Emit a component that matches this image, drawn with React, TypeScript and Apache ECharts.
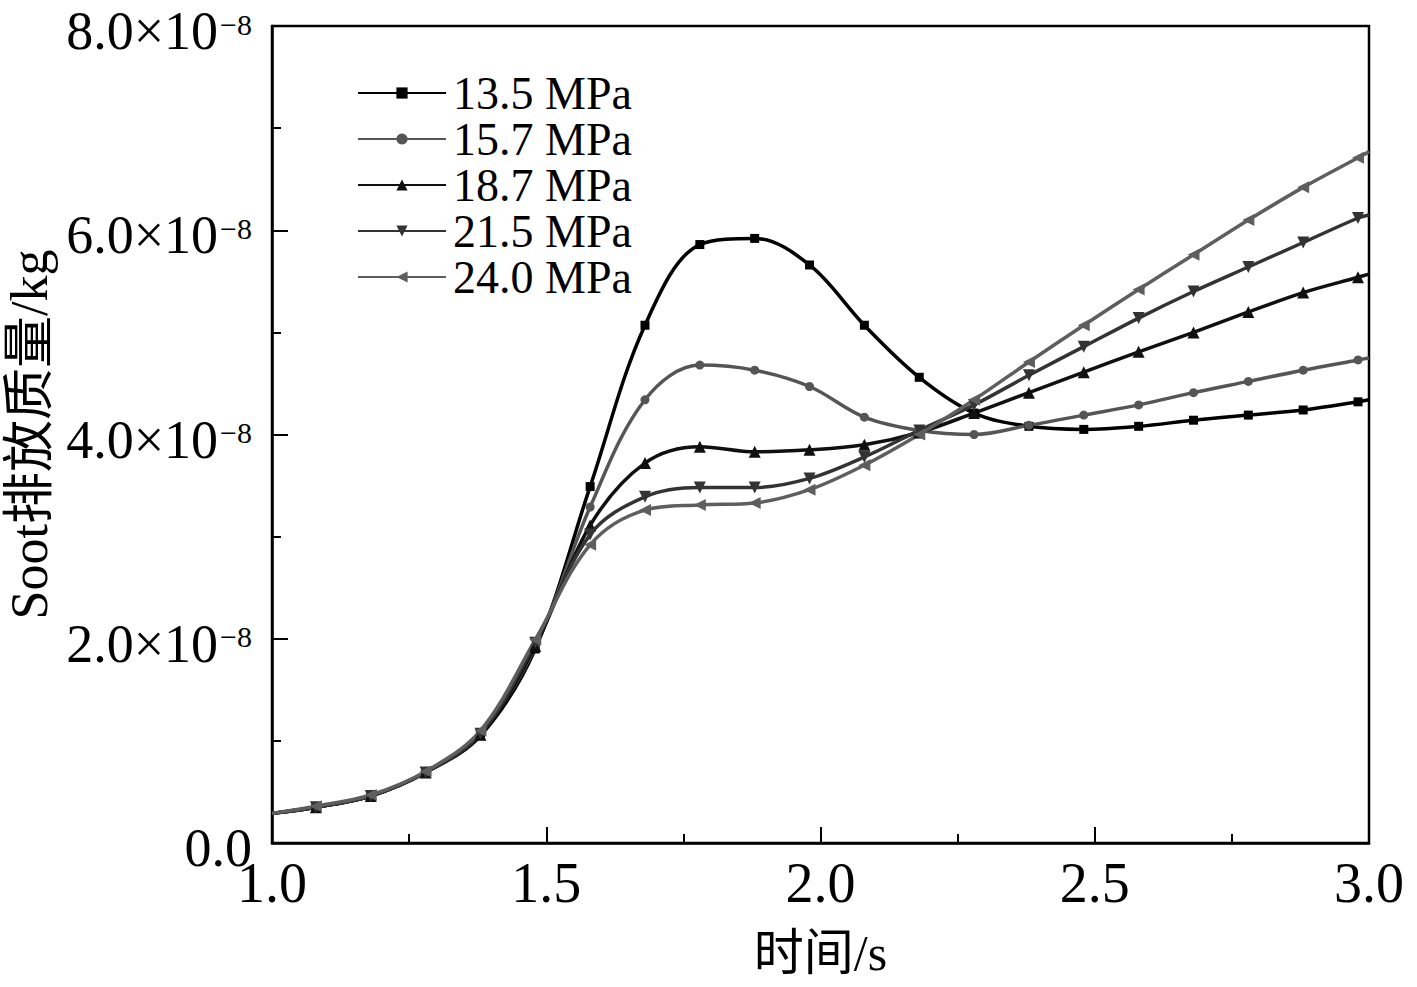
import React, { useEffect, useRef } from "react";
import * as echarts from "echarts";

const TIMES = [1.0, 1.08, 1.18, 1.28, 1.38, 1.48, 1.58, 1.68, 1.78, 1.88, 1.98, 2.08, 2.18, 2.28, 2.38, 2.48, 2.58, 2.68, 2.78, 2.88, 2.98, 3.0];

// Soot mass, in units of 1e-8 kg
const P135 = [0.29, 0.35, 0.46, 0.69, 1.05, 1.90, 3.49, 5.07, 5.86, 5.92, 5.66, 5.07, 4.56, 4.21, 4.08, 4.05, 4.08, 4.14, 4.19, 4.24, 4.32, 4.34];
const P157 = [0.29, 0.35, 0.46, 0.69, 1.07, 1.92, 3.29, 4.34, 4.68, 4.63, 4.47, 4.17, 4.04, 4.00, 4.09, 4.19, 4.29, 4.41, 4.52, 4.63, 4.73, 4.75];
const P187 = [0.29, 0.35, 0.46, 0.69, 1.06, 1.93, 3.11, 3.72, 3.88, 3.83, 3.85, 3.90, 4.02, 4.21, 4.41, 4.61, 4.81, 5.00, 5.20, 5.39, 5.54, 5.57];
const P215 = [0.29, 0.35, 0.46, 0.69, 1.07, 1.96, 3.02, 3.39, 3.48, 3.48, 3.57, 3.78, 4.04, 4.29, 4.58, 4.86, 5.14, 5.40, 5.64, 5.88, 6.12, 6.15];
const P240 = [0.29, 0.36, 0.47, 0.70, 1.10, 1.99, 2.92, 3.26, 3.31, 3.33, 3.46, 3.70, 4.00, 4.34, 4.71, 5.07, 5.42, 5.76, 6.10, 6.42, 6.71, 6.77];

const SERIES_NAMES = ["13.5 MPa", "15.7 MPa", "18.7 MPa", "21.5 MPa", "24.0 MPa"];
const SERIES_VALUES = [P135, P157, P187, P215, P240];
const SERIES_COLORS = ["#000000", "#555555", "#101010", "#333333", "#5e5e5e"];
const SERIES_SYMBOLS = ["rect", "circle", "triangle", "triangle", "triangle"];
const SERIES_ROTATE = [0, 0, 0, 180, 90];
const SERIES_SIZES = [9, 9, 12, 12, 12];

const X_TICKS = [1.0, 1.5, 2.0, 2.5, 3.0];

const FONT = "'Liberation Serif', 'Times New Roman', 'Noto Sans CJK SC', serif";

export default function App() {
  const ref = useRef<HTMLDivElement>(null);

  useEffect(() => {
    if (!ref.current) return;
    const chart = echarts.init(ref.current, undefined, { renderer: "svg" });
    const last = TIMES.length - 1;

    const series = SERIES_NAMES.map((name, k) => ({
      name,
      type: "line",
      smooth: 0.35,
      symbol: SERIES_SYMBOLS[k],
      symbolSize: SERIES_SIZES[k],
      symbolRotate: SERIES_ROTATE[k],
      showAllSymbol: true,
      color: SERIES_COLORS[k],
      lineStyle: { color: SERIES_COLORS[k], width: 3.5 },
      itemStyle: { color: SERIES_COLORS[k] },
      data: TIMES.map((t, i) =>
        i === 0 || i === last
          ? { value: [t, SERIES_VALUES[k][i]], symbol: "none" }
          : { value: [t, SERIES_VALUES[k][i]] }
      ),
    }));

    chart.setOption({
      animation: false,
      backgroundColor: "#ffffff",
      textStyle: { fontFamily: FONT },
      grid: {
        left: 272,
        top: 26,
        right: 48,
        bottom: 144,
        containLabel: false,
        outerBoundsMode: "none",
        show: true,
        borderColor: "#000",
        borderWidth: 2.5,
        backgroundColor: "transparent",
      },
      legend: {
        orient: "vertical",
        left: 352,
        top: 65,
        padding: 5,
        itemWidth: 88,
        itemHeight: 14,
        itemGap: 0,
        textStyle: {
          fontFamily: FONT,
          fontSize: 46,
          color: "#000",
          padding: [0, 0, 0, 2],
        },
        data: SERIES_NAMES,
      },
      xAxis: {
        type: "value",
        min: 1,
        max: 3,
        interval: 0.5,
        name: "时间/s",
        nameLocation: "middle",
        nameGap: 85,
        nameTextStyle: { fontFamily: FONT, fontSize: 50, lineHeight: 50, color: "#000" },
        axisLine: { show: true, lineStyle: { color: "#000", width: 2.5 } },
        axisTick: { show: true, inside: true, length: 16, lineStyle: { color: "#000", width: 2 } },
        minorTick: { show: true, splitNumber: 2, length: 9, lineStyle: { color: "#000", width: 2 } },
        splitLine: { show: false },
        minorSplitLine: { show: false },
        axisLabel: {
          fontFamily: FONT,
          fontSize: 56,
          color: "#000",
          margin: 12,
          customValues: X_TICKS,
          formatter: (v: number) => v.toFixed(1),
        },
      },
      yAxis: {
        type: "value",
        min: 0,
        max: 8,
        interval: 2,
        name: "Soot排放质量/kg",
        nameLocation: "middle",
        nameGap: 207,
        nameTextStyle: { fontFamily: FONT, fontSize: 52, lineHeight: 52, color: "#000" },
        axisLine: { show: true, lineStyle: { color: "#000", width: 2.5 } },
        axisTick: { show: true, inside: true, length: 16, lineStyle: { color: "#000", width: 2 } },
        minorTick: { show: true, splitNumber: 2, length: 9, lineStyle: { color: "#000", width: 2 } },
        splitLine: { show: false },
        minorSplitLine: { show: false },
        axisLabel: {
          fontFamily: FONT,
          color: "#000",
          margin: 20,
          padding: [10, 0, 0, 0],
          formatter: (v: number) =>
            v === 0 ? "{m|0.0}" : `{m|${v.toFixed(1)}×10}{s|−8}`,
          rich: {
            m: { fontFamily: FONT, fontSize: 54, lineHeight: 44, color: "#000" },
            s: { fontFamily: FONT, fontSize: 30, lineHeight: 30, color: "#000", verticalAlign: "top", padding: [0, 0, 0, 2] },
          },
        },
      },
      series,
    });

    return () => chart.dispose();
  }, []);

  return (
    <div
      ref={ref}
      style={{ position: "fixed", left: 0, top: 0, width: 1417, height: 987, background: "#fff" }}
    />
  );
}
